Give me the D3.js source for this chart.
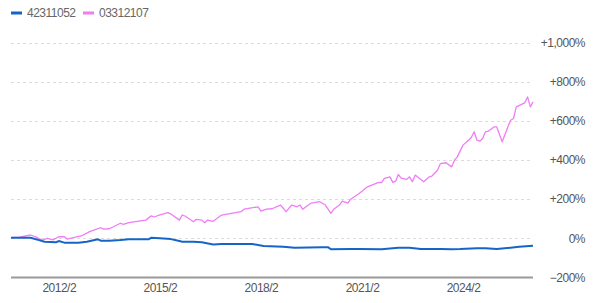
<!DOCTYPE html>
<html>
<head>
<meta charset="utf-8">
<script src="https://cdn.jsdelivr.net/npm/d3@7"></script>
<style>
  body { margin: 0; background: #fff; }
  svg { display: block; font-family: "Liberation Sans", Arial, sans-serif; letter-spacing: -0.5px; }
</style>
</head>
<body>
<div id="chart"></div>
<script>
var seriesNames = ["42311052", "03312107"];
var seriesColors = ["#1565c8", "#f07cf6"];

// blue series: [month, change %]
var blueData = [
  ["2010-09", 3], ["2011-04", 3], ["2011-07", -9], ["2011-09", -17], ["2012-01", -20],
  ["2012-02", -14], ["2012-04", -22], ["2012-09", -22], ["2012-12", -17], ["2013-04", -5],
  ["2013-05", -12], ["2013-08", -12], ["2013-12", -9], ["2014-03", -5], ["2014-10", -5],
  ["2014-11", 3], ["2015-02", 0], ["2015-06", -4], ["2015-09", -14], ["2015-10", -17],
  ["2016-02", -17], ["2016-05", -20], ["2016-09", -31], ["2016-12", -29], ["2017-11", -29],
  ["2018-03", -39], ["2018-10", -43], ["2019-02", -48], ["2019-12", -46], ["2020-02", -46],
  ["2020-03", -56], ["2020-10", -55], ["2021-01", -55], ["2021-09", -56], ["2022-03", -48],
  ["2022-07", -48], ["2022-11", -55], ["2023-06", -55], ["2023-10", -56], ["2024-01", -55],
  ["2024-07", -51], ["2024-10", -51], ["2025-02", -55], ["2025-07", -48], ["2025-10", -43],
  ["2026-03", -38]
];

// pink series: [month, change %]
var pinkData = [
  ["2010-09", 3], ["2010-12", 6], ["2011-04", 17], ["2011-06", 6], ["2011-08", -9],
  ["2011-10", 0], ["2011-12", -8], ["2012-02", 8], ["2012-04", 8], ["2012-05", -4],
  ["2012-10", 12], ["2013-01", 34], ["2013-03", 44], ["2013-05", 54], ["2013-06", 47],
  ["2013-08", 49], ["2013-12", 77], ["2014-01", 71], ["2014-03", 80], ["2014-09", 93],
  ["2014-11", 115], ["2014-12", 109], ["2015-02", 120], ["2015-05", 131], ["2015-06", 124],
  ["2015-09", 93], ["2015-10", 119], ["2015-11", 114], ["2016-02", 85], ["2016-03", 97],
  ["2016-05", 93], ["2016-06", 80], ["2016-07", 93], ["2016-09", 87], ["2016-12", 119],
  ["2017-07", 136], ["2017-08", 149], ["2018-01", 161], ["2018-02", 139], ["2018-04", 149],
  ["2018-06", 151], ["2018-09", 170], ["2018-11", 136], ["2018-12", 153], ["2019-01", 170],
  ["2019-03", 161], ["2019-04", 170], ["2019-05", 148], ["2019-06", 160], ["2019-08", 180],
  ["2019-11", 187], ["2020-01", 170], ["2020-03", 128], ["2020-04", 149], ["2020-06", 170],
  ["2020-07", 190], ["2020-09", 180], ["2020-10", 200], ["2021-01", 229], ["2021-04", 263],
  ["2021-08", 286], ["2021-09", 284], ["2021-10", 306], ["2021-12", 314], ["2022-01", 286],
  ["2022-02", 292], ["2022-03", 326], ["2022-04", 307], ["2022-06", 301], ["2022-07", 314],
  ["2022-08", 289], ["2022-09", 323], ["2022-12", 289], ["2023-02", 314], ["2023-03", 318],
  ["2023-05", 348], ["2023-06", 382], ["2023-08", 386], ["2023-10", 365], ["2023-11", 399],
  ["2023-12", 416], ["2024-02", 476], ["2024-04", 501], ["2024-05", 515], ["2024-06", 544],
  ["2024-07", 501], ["2024-08", 496], ["2024-09", 510], ["2024-10", 544], ["2024-11", 547],
  ["2025-01", 569], ["2025-02", 569], ["2025-04", 493], ["2025-06", 569], ["2025-07", 603],
  ["2025-08", 612], ["2025-09", 671], ["2025-12", 692], ["2026-01", 722], ["2026-02", 671],
  ["2026-03", 697]
];

var xTicks = ["2012-02", "2015-02", "2018-02", "2021-02", "2024-02"];
var yTicks = [-200, 0, 200, 400, 600, 800, 1000];

var width = 600,
    height = 303;

var parseMonth = d3.timeParse("%Y-%m");

var svg = d3.select("#chart")
    .append("svg")
    .attr("width", width)
    .attr("height", height);

var x = d3.scaleTime()
    .domain([parseMonth("2010-09"), parseMonth("2026-03")])
    .range([11, 533]);

var y = d3.scaleLinear()
    .domain([-200, 1000])
    .range([277.5, 42.5]);

// grid
svg.append("g")
    .selectAll("line")
    .data(yTicks.filter(function (d) { return d > -200; }))
    .enter().append("line")
    .attr("x1", 11)
    .attr("x2", 533)
    .attr("y1", function (d) { return Math.round(y(d)) + 0.5; })
    .attr("y2", function (d) { return Math.round(y(d)) + 0.5; })
    .attr("stroke", "#dcdcdc")
    .attr("stroke-dasharray", "3,3");

// y labels on the right
var fmt = d3.format(",");
svg.append("g")
    .selectAll("text")
    .data(yTicks)
    .enter().append("text")
    .attr("x", 585)
    .attr("y", function (d) { return y(d); })
    .attr("dy", "0.35em")
    .attr("text-anchor", "end")
    .attr("font-size", 12)
    .attr("fill", "#555")
    .text(function (d) { return (d > 0 ? "+" : "") + fmt(d) + "%"; });

// x axis
var xAxis = svg.append("g")
    .attr("transform", "translate(0," + y(-200) + ")")
    .call(d3.axisBottom(x)
        .tickValues(xTicks.map(parseMonth))
        .tickSize(0)
        .tickPadding(6)
        .tickFormat(d3.timeFormat("%Y/%-m")));

xAxis.select(".domain")
    .attr("stroke", "#999")
    .attr("stroke-width", 2)
    .attr("d", "M11,0H533");

xAxis.selectAll("text")
    .attr("font-family", "Liberation Sans, Arial, sans-serif")
    .attr("font-size", 12)
    .attr("fill", "#555");

var line = d3.line()
    .x(function (d) { return x(parseMonth(d[0])); })
    .y(function (d) { return y(d[1]); });

svg.append("path")
    .datum(pinkData)
    .attr("fill", "none")
    .attr("stroke", seriesColors[1])
    .attr("stroke-width", 1.3)
    .attr("stroke-linejoin", "round")
    .attr("d", line);

svg.append("path")
    .datum(blueData)
    .attr("fill", "none")
    .attr("stroke", seriesColors[0])
    .attr("stroke-width", 2)
    .attr("stroke-linejoin", "round")
    .attr("d", line);

// legend
var legendX = [11, 83];
var legend = svg.append("g")
    .selectAll("g")
    .data(seriesNames)
    .enter().append("g")
    .attr("transform", function (d, i) { return "translate(" + legendX[i] + ",13)"; });

legend.append("rect")
    .attr("x", 0)
    .attr("y", -1.5)
    .attr("width", 11)
    .attr("height", 3)
    .attr("fill", function (d, i) { return seriesColors[i]; });

legend.append("text")
    .attr("x", 16)
    .attr("dy", "0.35em")
    .attr("font-size", 12)
    .attr("fill", "#666")
    .text(function (d) { return d; });
</script>
</body>
</html>
